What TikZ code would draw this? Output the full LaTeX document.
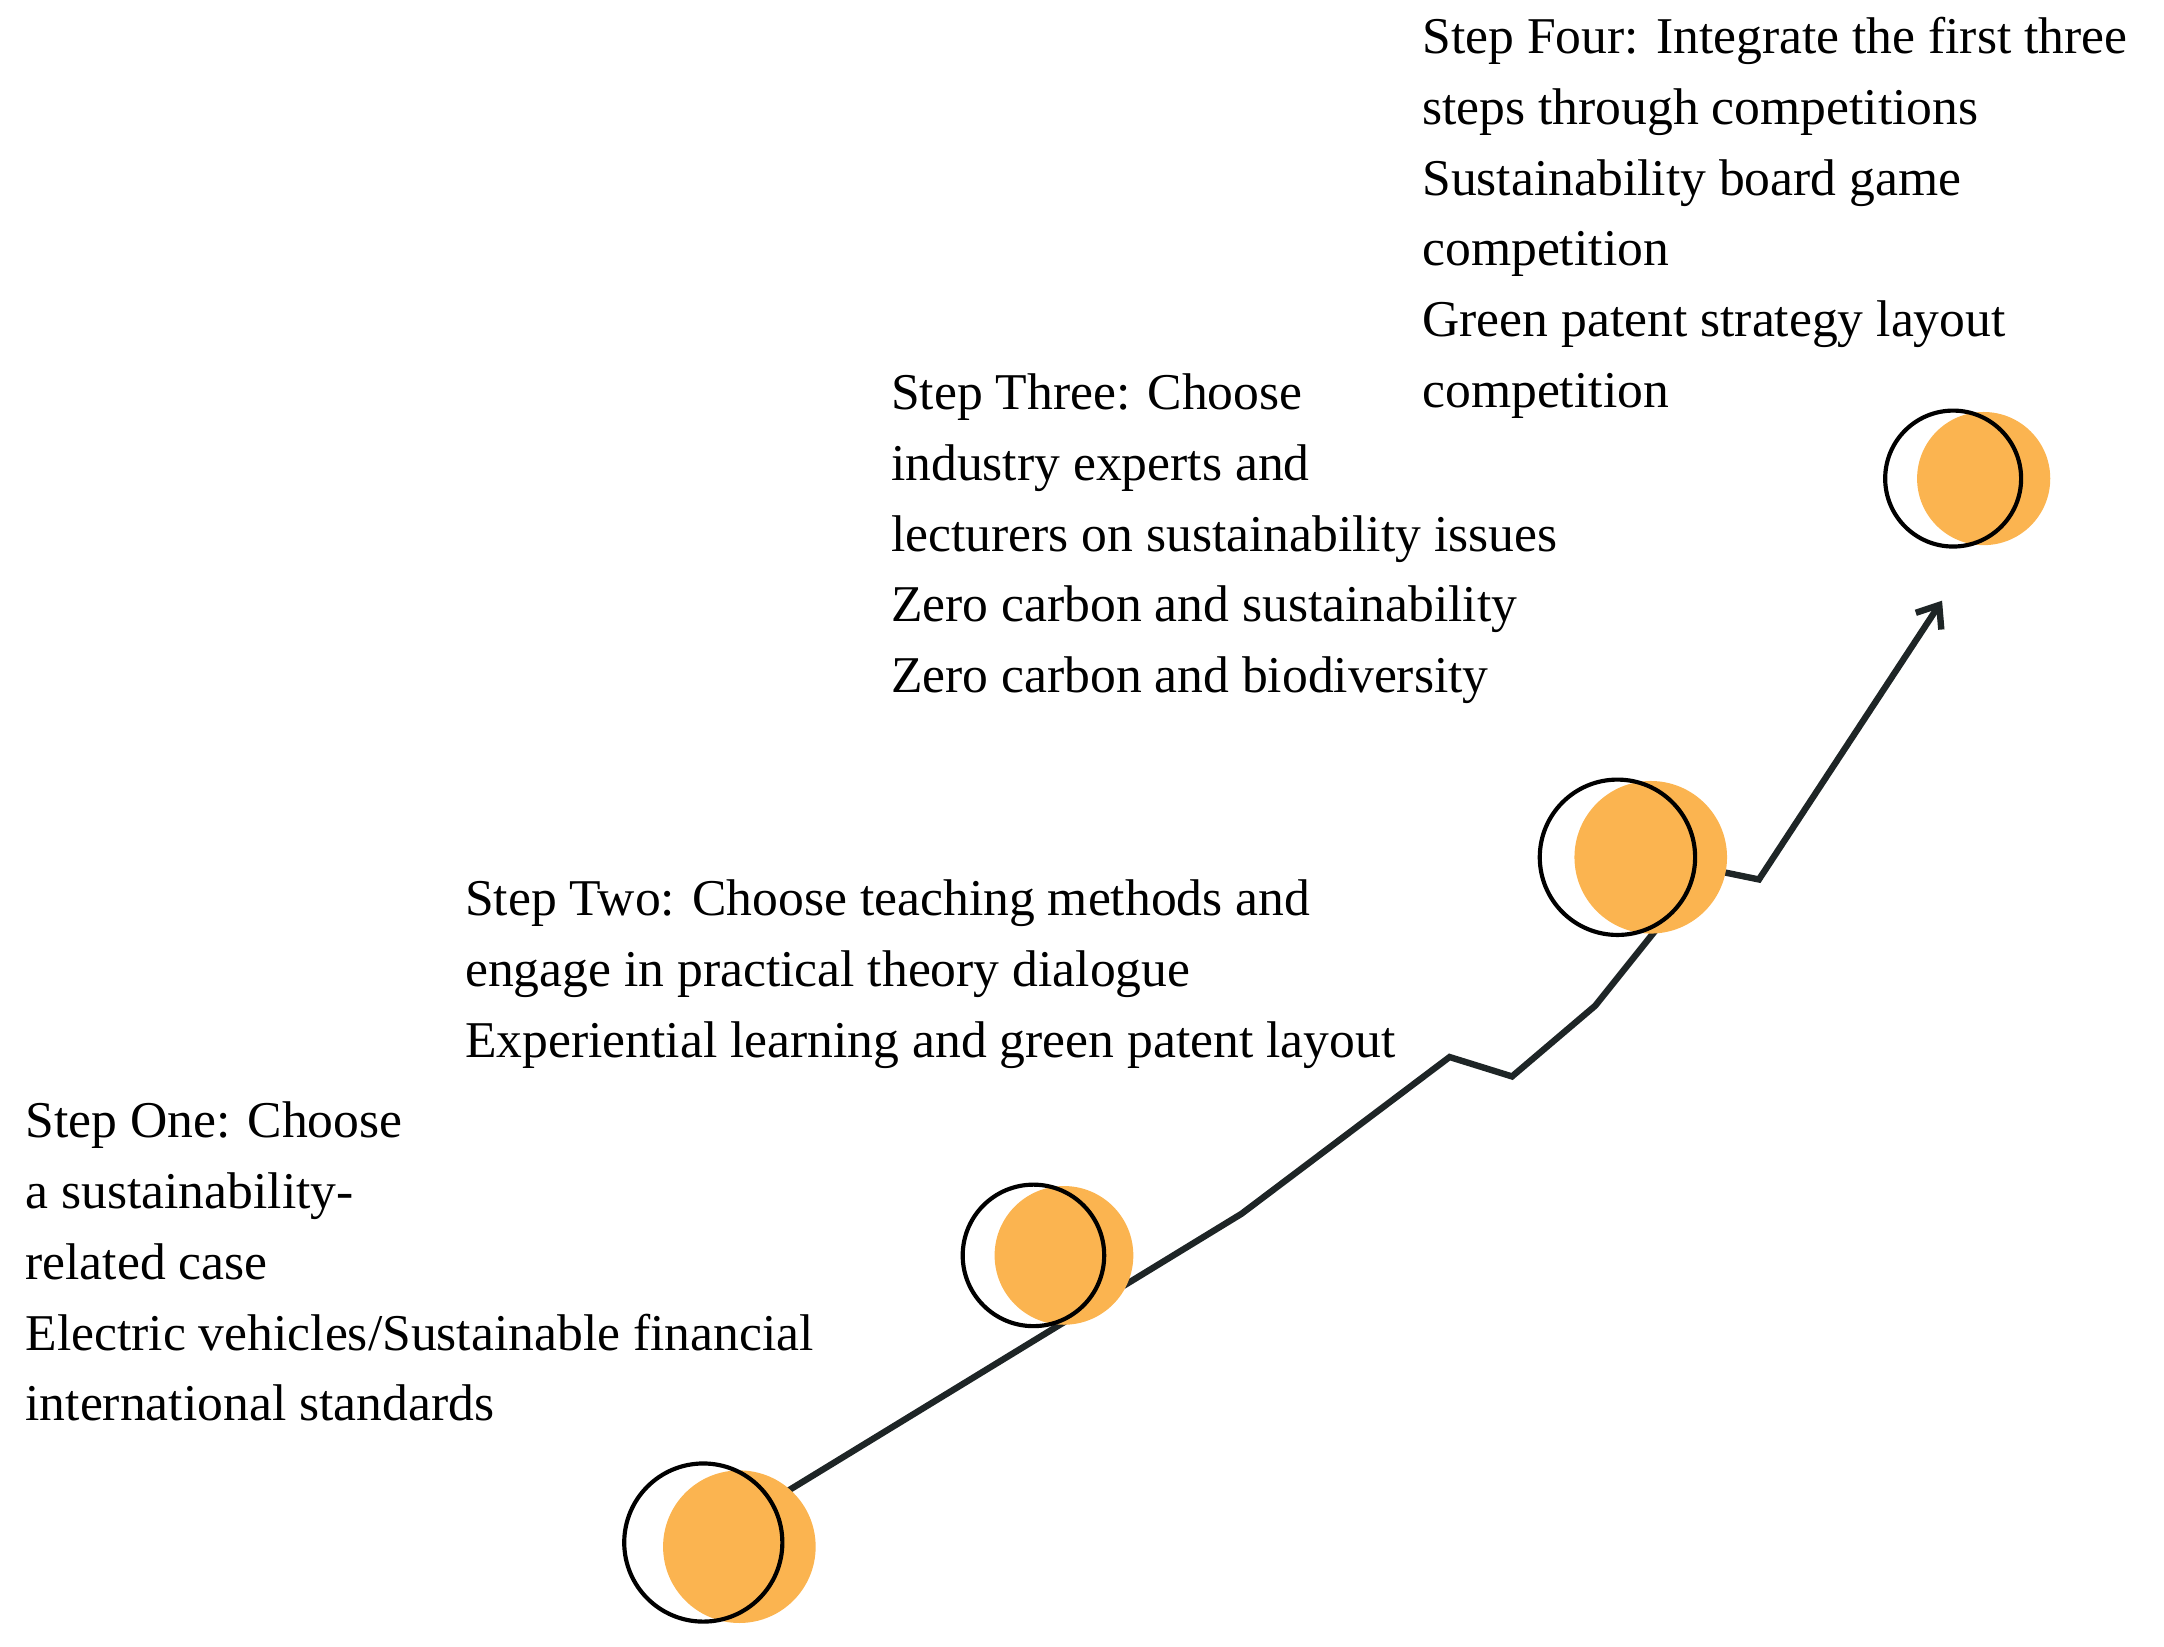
\documentclass[tikz,border=0pt]{standalone}
\usepackage{fontspec}
\setmainfont{Liberation Serif}
\usetikzlibrary{arrows.meta}
\definecolor{org}{HTML}{FBB450}
\definecolor{ink}{HTML}{1E2526}
\begin{document}
\begin{tikzpicture}[x=0.5pt,y=-0.5pt,
  lbl/.style={anchor=north west,inner sep=0pt,align=left,font=\fontsize{18.6}{25.5}\selectfont},
  ring/.style={draw=black,line width=1.5pt},
  dot/.style={fill=org}]
\useasboundingbox (0,0) rectangle (1560,1187);
% path
\coordinate (p1) at (507,1112);
\coordinate (a) at (895,875);
\coordinate (b) at (1045,762);
\coordinate (c) at (1090,776);
\coordinate (d) at (1150,725);
\coordinate (p3) at (1190,618);
\coordinate (p3b) at (1210,650);
\coordinate (e) at (1268,634);
\coordinate (tip) at (1400,433);
\draw[ink,line width=2.3pt,line join=miter] (p1) -- (a) -- (b) -- (c) -- (d) -- (p3b);
\draw[ink,line width=2.3pt,-{Straight Barb[length=7pt,width=11pt]}] (p3) -- (e) -- (tip);
% circles
\fill[dot] (533,1115) circle[radius=55];
\draw[ring] (507,1112) circle[radius=57];
\fill[dot] (767,905) circle[radius=50];
\draw[ring] (745,905) circle[radius=51];
\fill[dot] (1190,618) circle[radius=55];
\draw[ring] (1166,618) circle[radius=56];
\fill[dot] (1430,345) circle[radius=48];
\draw[ring] (1408,345) circle[radius=49];
% labels
\node[lbl] (t4) at (1025,12) {Step Four: Integrate the first three\\steps through competitions\\Sustainability board game\\competition\\Green patent strategy layout\\competition};
\node[lbl] (t3) at (642,269) {Step Three: Choose\\industry experts and\\lecturers on sustainability issues\\Zero carbon and sustainability\\Zero carbon and biodiversity};
\node[lbl] (t2) at (335,634) {Step Two: Choose teaching methods and\\engage in practical theory dialogue\\Experiential learning and green patent layout};
\node[lbl] (t1) at (18,794) {Step One: Choose\\a sustainability-\\related case\\Electric vehicles/Sustainable financial\\international standards};
\end{tikzpicture}
\end{document}
